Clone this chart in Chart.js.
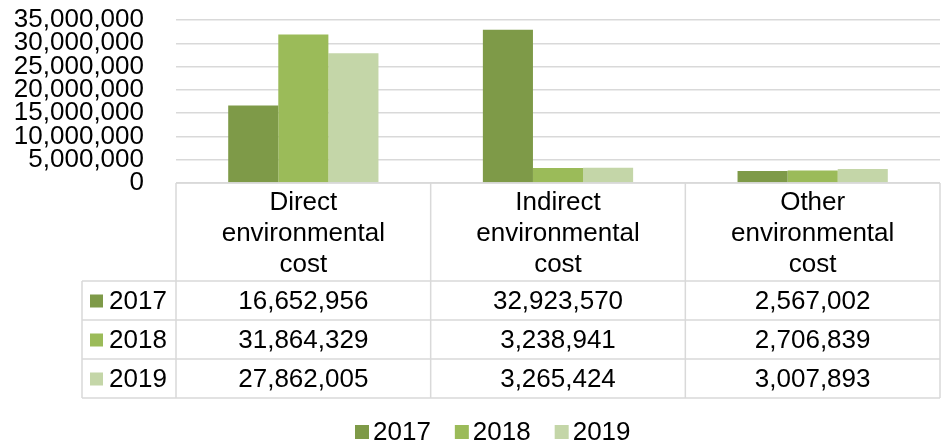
<!DOCTYPE html>
<html>
<head>
<meta charset="utf-8">
<script src="https://cdn.jsdelivr.net/npm/chart.js@4"></script>
<style>
  body { margin: 0; background: #fff; }
  #wrap { width: 941px; height: 445px; }
</style>
</head>
<body>
<div id="wrap"><canvas id="chart"></canvas></div>
<script>
const categories = [
  ['Direct', 'environmental', 'cost'],
  ['Indirect', 'environmental', 'cost'],
  ['Other', 'environmental', 'cost']
]
const years = ['2017', '2018', '2019']
const values2017 = [16652956, 32923570, 2567002]
const values2018 = [31864329, 3238941, 2706839]
const values2019 = [27862005, 3265424, 3007893]
const yMax = 35000000
const yStep = 5000000

const colors = ['#7E9A48', '#9BBB59', '#C4D6A8']
const FONT = "'Liberation Sans', Arial, sans-serif"
const lineColor = '#D9D9D9'

function fmt(v) {
  return v.toLocaleString('en-US')
}

// data table + legend under the plot, Excel style
const tablePlugin = {
  id: 'dataTable',
  afterDraw(chart) {
    const ctx = chart.ctx
    const a = chart.chartArea
    const x = chart.scales.x
    const series = chart.data.datasets
    const headerH = 98
    const rowH = 39
    const tableLeft = 82
    const top = a.bottom
    const headBottom = top + headerH
    const bottom = headBottom + rowH * series.length
    const colW = (a.right - a.left) / categories.length

    ctx.save()
    ctx.strokeStyle = lineColor
    ctx.lineWidth = 1.5
    ctx.beginPath()
    ctx.moveTo(a.left, top); ctx.lineTo(a.right, top)
    for (let r = 0; r <= series.length; r++) {
      const y = headBottom + r * rowH
      ctx.moveTo(tableLeft, y); ctx.lineTo(a.right, y)
    }
    for (let c = 0; c <= categories.length; c++) {
      const xx = a.left + c * colW
      ctx.moveTo(xx, top); ctx.lineTo(xx, bottom)
    }
    ctx.moveTo(tableLeft, headBottom); ctx.lineTo(tableLeft, bottom)
    ctx.stroke()

    ctx.fillStyle = '#000'
    ctx.font = '26px ' + FONT
    ctx.textAlign = 'center'
    ctx.textBaseline = 'middle'
    categories.forEach((lines, i) => {
      const cx = x.getPixelForValue(i)
      lines.forEach((t, k) => {
        ctx.fillText(t, cx, top + 20 + k * 31)
      })
      series.forEach((ds, r) => {
        ctx.fillText(fmt(ds.data[i]), cx, headBottom + rowH * r + rowH / 2 + 1)
      })
    })

    // row keys
    ctx.textAlign = 'left'
    series.forEach((ds, r) => {
      const cy = headBottom + rowH * r + rowH / 2
      ctx.fillStyle = ds.backgroundColor
      ctx.fillRect(90, cy - 6, 13, 13)
      ctx.fillStyle = '#000'
      ctx.fillText(ds.label, 109, cy + 1)
    })

    // legend
    let lx = 355
    const ly = 432
    series.forEach(ds => {
      ctx.fillStyle = ds.backgroundColor
      ctx.fillRect(lx, ly - 7, 14, 14)
      ctx.fillStyle = '#000'
      ctx.fillText(ds.label, lx + 18, ly + 1)
      lx += 18 + ctx.measureText(ds.label).width + 24
    })
    ctx.restore()
  }
}

new Chart(document.getElementById('chart'), {
  type: 'bar',
  data: {
    labels: categories.map(c => c.join(' ')),
    datasets: [
      { label: years[0], data: values2017, backgroundColor: colors[0] },
      { label: years[1], data: values2018, backgroundColor: colors[1] },
      { label: years[2], data: values2019, backgroundColor: colors[2] }
    ]
  },
  options: {
    responsive: true,
    maintainAspectRatio: false,
    animation: false,
    layout: { padding: { top: 20, right: 1, bottom: 262, left: 0 } },
    datasets: { bar: { categoryPercentage: 0.59, barPercentage: 1 } },
    plugins: {
      legend: { display: false },
      tooltip: { enabled: false }
    },
    scales: {
      x: { display: false },
      y: {
        min: 0,
        max: yMax,
        afterFit: scale => { scale.width = 176 },
        ticks: {
          stepSize: yStep,
          autoSkip: false,
          padding: 0,
          color: '#000',
          font: { family: FONT, size: 26, lineHeight: 0.8 },
          callback: v => fmt(v)
        },
        grid: { color: lineColor, lineWidth: 1.5, drawTicks: true, tickLength: 32, tickColor: 'rgba(0,0,0,0)' },
        border: { display: false }
      }
    }
  },
  plugins: [tablePlugin]
})
</script>
</body>
</html>
